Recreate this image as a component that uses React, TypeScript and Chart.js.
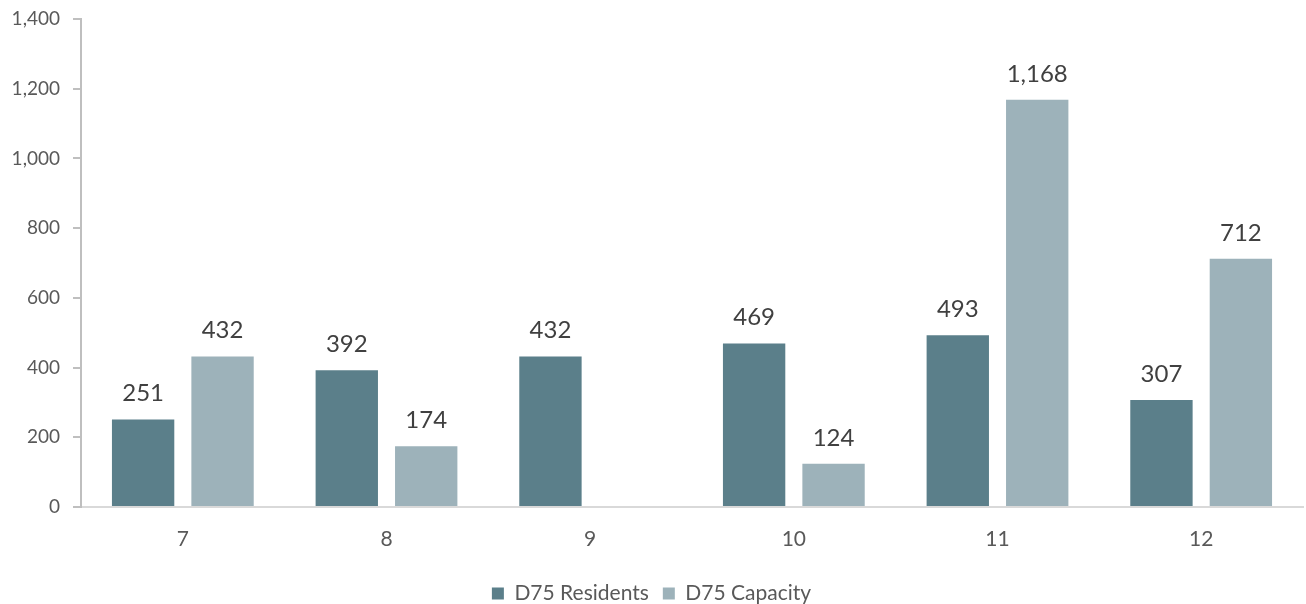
import React, { useEffect, useRef } from "react";
import { Chart, registerables } from "chart.js";

Chart.register(...registerables);

const categories = ["7", "8", "9", "10", "11", "12"];
const residents = [251, 392, 432, 469, 493, 307];
const capacity: (number | null)[] = [432, 174, null, 124, 1168, 712];
const seriesNames = ["D75 Residents", "D75 Capacity"];
const seriesColors = ["#5B7F8A", "#9DB2BA"];
const yTicks = [0, 200, 400, 600, 800, 1000, 1200, 1400];

const FONT = "Lato, 'Open Sans', sans-serif";
const TEXT = "#595959";

const valueLabels = {
  id: "valueLabels",
  afterDatasetsDraw(chart: any) {
    const ctx = chart.ctx;
    ctx.save();
    ctx.font = `24px ${FONT}`;
    ctx.fillStyle = "#404040";
    ctx.textAlign = "center";
    ctx.textBaseline = "bottom";
    chart.data.datasets.forEach((ds: any, i: number) => {
      const meta = chart.getDatasetMeta(i);
      meta.data.forEach((bar: any, j: number) => {
        const v = ds.data[j];
        if (v === null || v === undefined) return;
        ctx.fillText(v.toLocaleString("en-US"), bar.x, bar.y - 14);
      });
    });
    ctx.restore();
  },
};

export default function App() {
  const ref = useRef<HTMLCanvasElement>(null);
  useEffect(() => {
    document.body.style.margin = "0";
    const chart = new Chart(ref.current!, {
      type: "bar",
      data: {
        labels: categories,
        datasets: [
          { label: seriesNames[0], data: residents, backgroundColor: seriesColors[0] },
          { label: seriesNames[1], data: capacity, backgroundColor: seriesColors[1] },
        ],
      },
      options: {
        animation: false,
        responsive: false,
        maintainAspectRatio: false,
        layout: { padding: { top: 19, right: 3, left: 0, bottom: -10 } },
        datasets: { bar: { categoryPercentage: 0.78, barPercentage: 0.785 } },
        plugins: {
          legend: {
            position: "bottom",
            labels: {
              font: { family: FONT, size: 21 },
              color: TEXT,
              boxWidth: 12,
              boxHeight: 12,
              padding: 14,
            },
          },
          tooltip: { enabled: false },
        },
        scales: {
          x: {
            grid: { display: false },
            border: { color: "#d9d9d9", width: 2 },
            ticks: { font: { family: FONT, size: 21 }, color: TEXT, padding: 12 },
            afterFit: (s: any) => {
              s.height = 62;
            },
          },
          y: {
            min: 0,
            max: 1400,
            afterBuildTicks: (s: any) => {
              s.ticks = yTicks.map((v) => ({ value: v }));
            },
            afterFit: (s: any) => {
              s.width = 81;
              s.paddingTop = 0;
              s.paddingBottom = 0;
            },
            grid: { drawOnChartArea: false, drawTicks: true, tickLength: 8, color: "#bfbfbf", lineWidth: 2 },
            border: { color: "#bfbfbf", width: 2 },
            ticks: {
              font: { family: FONT, size: 19 },
              color: TEXT,
              padding: 13,
              callback: (v: any) => Number(v).toLocaleString("en-US"),
            },
          },
        },
      },
      plugins: [valueLabels],
    });
    return () => chart.destroy();
  }, []);
  return (
    <div style={{ width: 1306, height: 604 }}>
      <canvas ref={ref} width={1306} height={604} />
    </div>
  );
}
